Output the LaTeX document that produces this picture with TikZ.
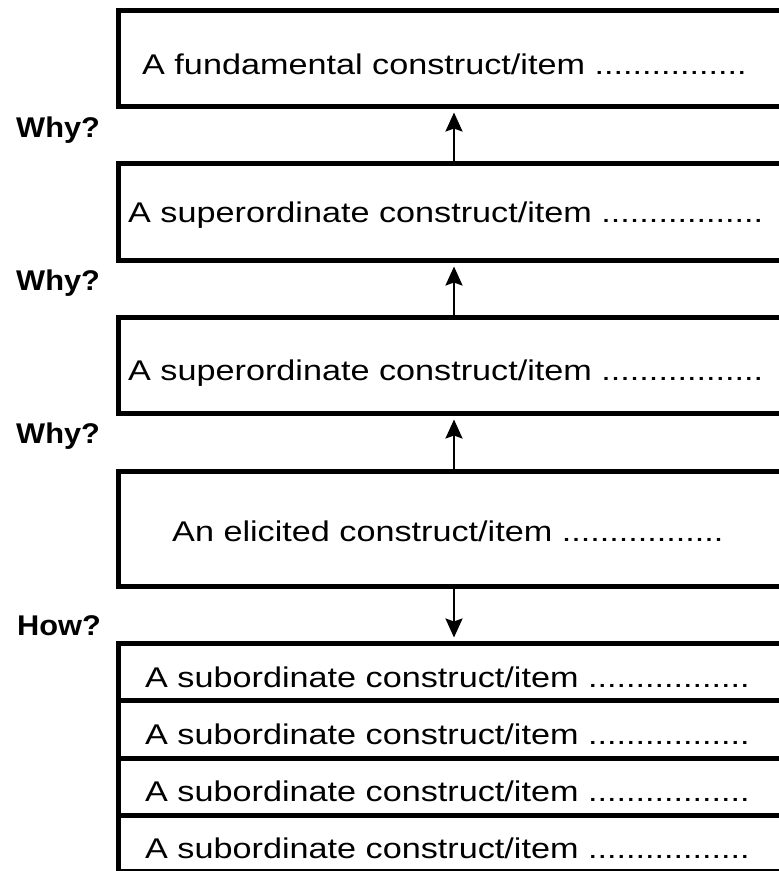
\documentclass[tikz,border=0pt]{standalone}
\usepackage{fontspec}
\setmainfont{Liberation Sans}
\newfontfamily\boxfont[FakeStretch=1.2]{Liberation Sans}
\newfontfamily\askfont[FakeStretch=1.08]{Liberation Sans}
\usetikzlibrary{arrows.meta}
\begin{document}
\begin{tikzpicture}[x=1pt,y=-1pt,
  box/.style={draw, line width=5pt, rectangle, minimum width=672pt, inner sep=0pt},
  txt/.style={anchor=base west, inner sep=0pt, font=\boxfont\fontsize{28.5}{33}\selectfont},
  ask/.style={anchor=base west, inner sep=0pt, font=\askfont\bfseries\fontsize{28.5}{33}\selectfont},
  arr/.style={line width=2.5pt, -{Stealth[length=19pt,width=17pt,inset=3pt]}}]
\useasboundingbox (0,0) rectangle (779,871);
\clip (0,0) rectangle (779,871);
\fill[white] (0,0) rectangle (779,871);
% boxes
\node[box, minimum height=96pt] (b1) at (454,58) {};
\node[box, minimum height=96.5pt] (b2) at (454,211.75) {};
\node[box, minimum height=96pt] (b3) at (454,365) {};
\node[box, minimum height=115pt] (b4) at (454,528.5) {};
\node[box, minimum height=57pt] (s1) at (454,671.5) {};
\node[box, minimum height=58pt] (s2) at (454,729) {};
\node[box, minimum height=57pt] (s3) at (454,786.5) {};
\node[box, minimum height=56pt] (s4) at (454,843) {};
% texts
\node[txt] (t1) at (142,74) {A fundamental construct/item ................};
\node[txt] (t2) at (128,222) {A superordinate construct/item .................};
\node[txt] (t3) at (128,380) {A superordinate construct/item .................};
\node[txt] (t4) at (172,541) {An elicited construct/item .................};
\node[txt] (u1) at (145,687) {A subordinate construct/item .................};
\node[txt] (u2) at (145,744) {A subordinate construct/item .................};
\node[txt] (u3) at (145,801) {A subordinate construct/item .................};
\node[txt] (u4) at (145,858) {A subordinate construct/item .................};
% questions
\node[ask] (q1) at (16,137) {Why?};
\node[ask] (q2) at (16,290) {Why?};
\node[ask] (q3) at (16,443) {Why?};
\node[ask] (q4) at (17,635) {How?};
% arrows
\draw[arr, shorten >=4pt] (b2.north) -- (b1.south);
\draw[arr, shorten >=4pt] (b3.north) -- (b2.south);
\draw[arr, shorten >=4pt] (b4.north) -- (b3.south);
\draw[arr, shorten >=3pt] (b4.south) -- (s1.north);
\end{tikzpicture}
\end{document}
